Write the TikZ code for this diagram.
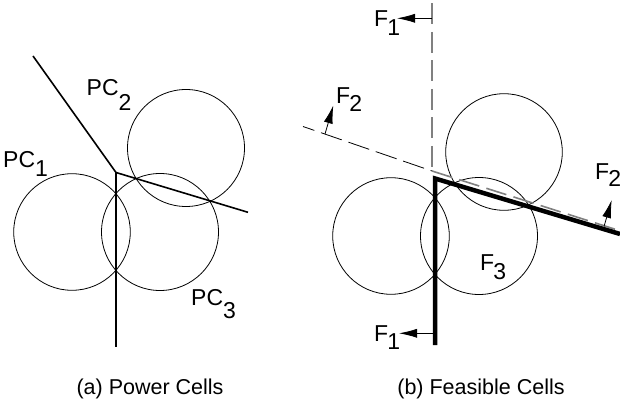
\documentclass[tikz,border=0pt]{standalone}
\usepackage{fontspec}
\setsansfont{Liberation Sans}
\usetikzlibrary{arrows.meta}
\newcommand{\pcsub}[3]{#1\raisebox{-#3pt}{#2}}
\newcommand{\fsub}[2]{F\kern-1pt\raisebox{-#2pt}{#1}}
\tikzset{
  cell/.style={line width=0.8pt},
  cut/.style={line width=1.6pt},
  feas/.style={line width=4.5pt},
  halfv/.style={gray,line width=1.6pt,dash pattern=on 21pt off 7.5pt},
  halfs/.style={line width=0.8pt,dash pattern=on 22pt off 7pt,dash phase=10pt},
  normal/.style={line width=0.8pt,-{Latex[length=18pt,width=9pt]}},
  lab/.style={font=\sffamily\fontsize{23}{23}\selectfont,inner sep=0pt,anchor=base west},
  capt/.style={font=\sffamily\fontsize{21.5}{21.5}\selectfont,inner sep=0pt,anchor=base}
}
\begin{document}
\begin{tikzpicture}[x=1pt,y=-1pt]
\useasboundingbox (0,0) rectangle (620,403);
% (a) power cells
\draw[cell] (72,232) circle[radius=58.3pt];
\draw[cell] (160,232) circle[radius=58.5pt];
\draw[cell] (186,148) circle[radius=58.5pt];
\coordinate (va) at (116,172.5);
\coordinate (a12) at (33,56);
\coordinate (a23) at (248,212.3);
\coordinate (a13) at (116,347);
\draw[cut] (a12) -- (va) -- (a23);
\draw[cut] (va) -- (a13);
\node[lab] (pc1) at (3,167.5) {\pcsub{PC}{1}{9}};
\node[lab] (pc2) at (86.5,96) {\pcsub{PC}{2}{14.5}};
\node[lab] (pc3) at (191,305) {\pcsub{PC}{3}{13.3}};
% (b) feasible cells
\draw[cell] (391,236) circle[radius=58.3pt];
\draw[cell] (479,236) circle[radius=58.5pt];
\draw[cell] (504,152) circle[radius=58.3pt];
\coordinate (vd) at (432,171);
\coordinate (d1) at (432,3.3);
\coordinate (d2) at (303,126.5);
\coordinate (d3) at (620,230.8);
\draw[halfv] (d1) -- (vd);
\draw[halfs] (d2) -- (vd);
\draw[halfv] (vd) -- (d3);
\coordinate (vf) at (435,178.5);
\coordinate (f1) at (435,345);
\coordinate (f2) at (620,234);
\draw[feas] (f1) -- (vf) -- (f2);
% normals
\coordinate (n1a) at (432,18.3);
\coordinate (n1b) at (397,18.3);
\coordinate (n2a) at (435,333.3);
\coordinate (n2b) at (399,333.3);
\coordinate (n3a) at (325,134);
\coordinate (n3b) at (333.3,105.5);
\coordinate (n4a) at (604,226.5);
\coordinate (n4b) at (611.7,200);
\draw[normal] (n1a) -- (n1b);
\draw[normal] (n2a) -- (n2b);
\draw[normal] (n3a) -- (n3b);
\draw[normal] (n4a) -- (n4b);
\node[lab] (f1top) at (374,27) {\fsub{1}{9}};
\node[lab] (f1bot) at (374,341.7) {\fsub{1}{8}};
\node[lab] (f2lft) at (336,103.5) {\fsub{2}{8}};
\node[lab] (f2rgt) at (595,180) {\fsub{2}{7}};
\node[lab] (f3) at (480,270) {\fsub{3}{9}};
% captions
\node[capt] (capa) at (150,394) {(a) Power Cells};
\node[capt] (capb) at (481,394) {(b) Feasible Cells};
\end{tikzpicture}
\end{document}
